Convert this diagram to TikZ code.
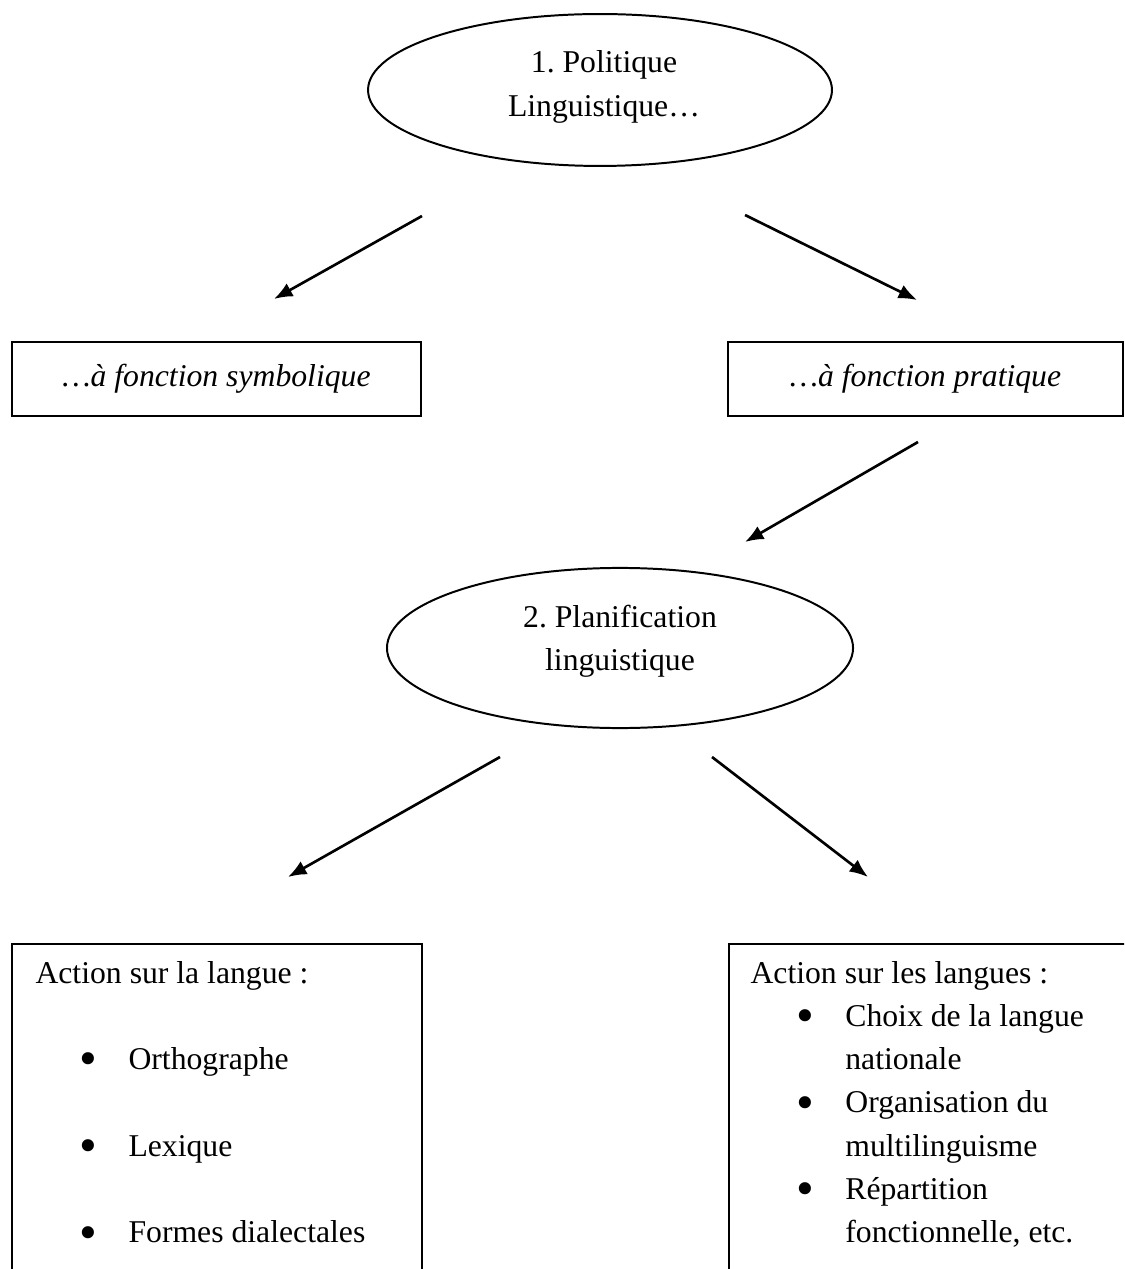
\documentclass[tikz,border=0pt]{standalone}
\usepackage{fontspec}
\setmainfont{Liberation Serif}
\usepackage{array}
\usetikzlibrary{positioning,shapes.geometric,arrows.meta}
\frenchspacing

\newcommand{\puce}{\raisebox{-2.3pt}{\scalebox{1.6}{\textbullet}}}

\tikzset{
  txt/.style={font=\fontsize{12}{16.4}\selectfont,inner sep=0pt},
  bulle/.style={draw,ellipse,line width=0.75pt,inner sep=0pt},
  cadre/.style={draw,rectangle,line width=0.75pt,inner sep=0pt,txt},
  trait/.style={line width=0.75pt},
  fleche/.style={line width=1pt,-{Latex[length=7pt,width=5.6pt]}},
}

\begin{document}
\begin{tikzpicture}[x=0.3785pt,y=-0.3785pt]
    \useasboundingbox (0,0) rectangle (1124,1269);
    \clip (0,0) rectangle (1124,1269);

    % niveau 1
    \node[bulle,minimum width=175.6pt,minimum height=57.5pt] (pol) at (600,90) {};
    \node[txt,align=center] (poltxt) at (604,87) {1. Politique\\Linguistique…};

    \node[cadre,minimum width=154.8pt,minimum height=28pt] (symb) at (216.5,379) {\itshape …à fonction symbolique};
    \node[cadre,minimum width=149.5pt,minimum height=28pt] (prat) at (925.5,379) {\itshape …à fonction pratique};

    % niveau 2
    \node[bulle,minimum width=176.4pt,minimum height=60.6pt] (plan) at (620,648) {};
    \node[txt,align=center] (plantxt) at (620,641) {2. Planification\\linguistique};

    % cadres du bas (coupes par le bord de la page)
    \draw[trait] (12,1300) |- (422,944) -- (422,1300);
    \draw[trait] (729,1300) |- (1150,944);

    \node[txt,anchor=base west] (corpus) at (35,983) {%
      \begin{tabular}[t]{@{\hspace{16.8pt}}p{18.4pt}@{}l}
        \multicolumn{2}{@{}l}{Action sur la langue :}\\
        & \\
        \puce & Orthographe\\
        & \\
        \puce & Lexique\\
        & \\
        \puce & Formes dialectales
      \end{tabular}};
    \node[txt,anchor=base west] (statut) at (750,983) {%
      \begin{tabular}[t]{@{\hspace{17.5pt}}p{18.4pt}@{}l}
        \multicolumn{2}{@{}l}{Action sur les langues :}\\
        \puce & Choix de la langue\\
        & nationale\\
        \puce & Organisation du\\
        & multilinguisme\\
        \puce & Répartition\\
        & fonctionnelle, etc.
      \end{tabular}};

    % fleches
    \coordinate (f1a) at (422,216);
    \coordinate (f1b) at (274,299);
    \coordinate (f2a) at (745,215);
    \coordinate (f2b) at (917,300);
    \coordinate (f3a) at (918,442);
    \coordinate (f3b) at (745,542);
    \coordinate (f4a) at (500,757);
    \coordinate (f4b) at (288,877);
    \coordinate (f5a) at (712,757);
    \coordinate (f5b) at (868,877);
    \draw[fleche] (f1a) -- (f1b);
    \draw[fleche] (f2a) -- (f2b);
    \draw[fleche] (f3a) -- (f3b);
    \draw[fleche] (f4a) -- (f4b);
    \draw[fleche] (f5a) -- (f5b);
\end{tikzpicture}
\end{document}
